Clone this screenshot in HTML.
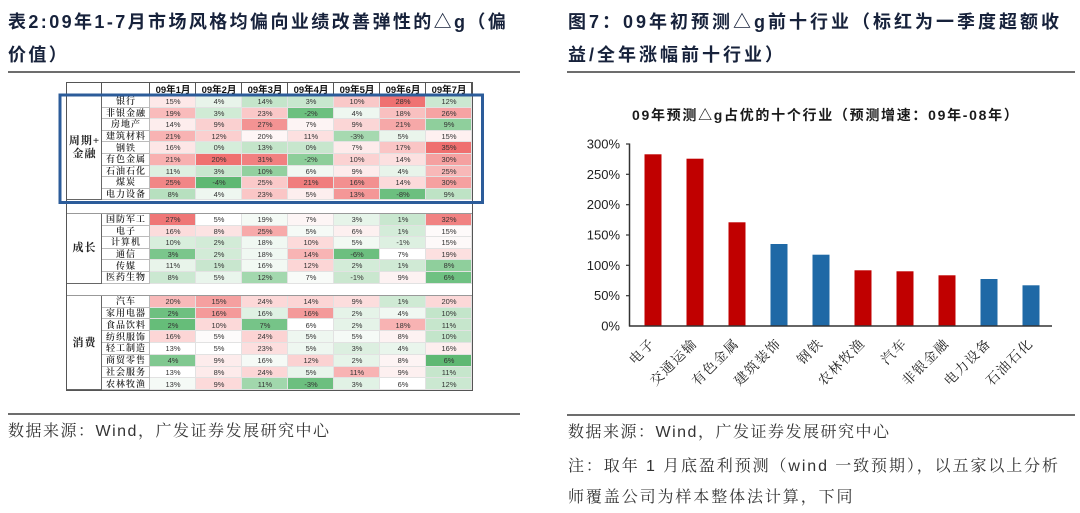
<!DOCTYPE html>
<html><head><meta charset="utf-8">
<style>
*{margin:0;padding:0;box-sizing:border-box}
body{width:1080px;height:513px;position:relative;overflow:hidden;background:#fff;font-family:"Liberation Sans","Noto Sans CJK SC",sans-serif}
.t{position:absolute;font-weight:bold;font-size:18px;line-height:33px;letter-spacing:2.4px;color:#17223b;white-space:nowrap}
.rule{position:absolute;height:2px;background:#6d6d6d}
.src{position:absolute;font-family:"Liberation Sans","Noto Serif CJK SC",serif;font-size:16px;letter-spacing:1.9px;color:#333;line-height:20px;white-space:nowrap}
.tb{position:absolute;left:66px;top:82px;border:1px solid #555;display:grid;grid-template-columns:35px 48px repeat(7,46px);grid-template-rows:13px repeat(9,11.6px) 13.6px repeat(6,11.6px) 12.4px repeat(8,11.8px);font-size:7.5px;color:#333;background:#fff}
.tb i{font-style:normal;display:flex;align-items:center;justify-content:center;box-shadow:inset -1px -1px 0 #e2e2e2;line-height:1}
.tb b{font-weight:600;font-family:"Liberation Serif","Noto Serif CJK SC",serif;font-size:9px;letter-spacing:1px;display:flex;align-items:center;justify-content:center;box-shadow:inset -1px -1px 0 #bbb;color:#222;line-height:1;white-space:nowrap;overflow:hidden}
.tb h6{font-weight:bold;font-size:9.5px;display:flex;align-items:flex-end;justify-content:center;box-shadow:inset -1px 0 0 #555;color:#111;line-height:11px;white-space:nowrap}
.tb u{text-decoration:none;grid-column:1;font-family:"Liberation Serif","Noto Serif CJK SC",serif;font-size:11px;font-weight:700;display:flex;align-items:center;justify-content:center;text-align:center;box-shadow:inset -1px -1px 0 #666;color:#222;line-height:13px;letter-spacing:1px;white-space:nowrap}
.tb s{text-decoration:none;grid-column:1/-1;box-shadow:inset 0 -1px 0 #999;background:#fff}
</style></head><body>

<div class="t" style="left:8px;top:6px">表2:09年1-7月市场风格均偏向业绩改善弹性的△g（偏<br>价值）</div>
<div class="rule" style="left:8px;top:71px;width:512px"></div>

<div class="t" style="left:568px;top:6px;letter-spacing:3px">图7：09年初预测△g前十行业（标红为一季度超额收<br>益/全年涨幅前十行业）</div>
<div class="rule" style="left:567px;top:71px;width:508px"></div>

<div class="tb">
<h6></h6><h6></h6><h6>09年1月</h6><h6>09年2月</h6><h6>09年3月</h6><h6>09年4月</h6><h6>09年5月</h6><h6>09年6月</h6><h6>09年7月</h6>
<u style="grid-row:2/11">周期+<br>金融</u>
<b>银行</b><i style="background:#FDE8E8">15%</i><i style="background:#E8F4EA">4%</i><i style="background:#C4E5CA">14%</i><i style="background:#C8E7CE">3%</i><i style="background:#F9C8C8">10%</i><i style="background:#EF7272">28%</i><i style="background:#CBE8D1">12%</i>
<b>非银金融</b><i style="background:#F9BBBB">19%</i><i style="background:#D0EBD5">3%</i><i style="background:#FAC8C8">23%</i><i style="background:#6CC07F">-2%</i><i style="background:#EEF7F0">4%</i><i style="background:#F9C0C0">18%</i><i style="background:#F6A3A3">26%</i>
<b>房地产</b><i style="background:#FDEDED">14%</i><i style="background:#FAD0D0">9%</i><i style="background:#F39393">27%</i><i style="background:#FDF4F4">7%</i><i style="background:#FBD6D6">9%</i><i style="background:#F6A8A8">21%</i><i style="background:#8FCF9C">9%</i>
<b>建筑材料</b><i style="background:#F8B3B3">21%</i><i style="background:#FBCFCF">12%</i><i style="background:#FEF6F6">20%</i><i style="background:#FCE0E0">11%</i><i style="background:#A6D9B0">-3%</i><i style="background:#EAF5EC">5%</i><i style="background:#FEF0F0">15%</i>
<b>钢铁</b><i style="background:#FDE6E6">16%</i><i style="background:#D5EDDA">0%</i><i style="background:#C4E5CA">13%</i><i style="background:#C7E6CD">0%</i><i style="background:#FDEBEB">7%</i><i style="background:#FAC5C5">17%</i><i style="background:#EF6F6F">35%</i>
<b>有色金属</b><i style="background:#F8B0B0">21%</i><i style="background:#F07070">20%</i><i style="background:#F18080">31%</i><i style="background:#8DCE9A">-2%</i><i style="background:#FBD2D2">10%</i><i style="background:#FCE0E0">14%</i><i style="background:#F5A0A0">30%</i>
<b>石油石化</b><i style="background:#DDF0E1">11%</i><i style="background:#C9E7CF">3%</i><i style="background:#92D09F">10%</i><i style="background:#F1F8F2">6%</i><i style="background:#FDECEC">9%</i><i style="background:#E8F4EA">4%</i><i style="background:#F8B8B8">25%</i>
<b>煤炭</b><i style="background:#F18686">25%</i><i style="background:#5FB873">-4%</i><i style="background:#FAC9C9">25%</i><i style="background:#F07D7D">21%</i><i style="background:#F39090">16%</i><i style="background:#FCDADA">14%</i><i style="background:#F6A0A0">30%</i>
<b>电力设备</b><i style="background:#B7E0BF">8%</i><i style="background:#EEF7F0">4%</i><i style="background:#FAC6C6">23%</i><i style="background:#FDEEEE">5%</i><i style="background:#F49797">13%</i><i style="background:#6CBF7F">-8%</i><i style="background:#BEE3C5">9%</i>
<s></s>
<u style="grid-row:12/18">成长</u>
<b>国防军工</b><i style="background:#EF7676">27%</i><i style="background:#FFFFFF">5%</i><i style="background:#F4FAF5">19%</i><i style="background:#FDF5F5">7%</i><i style="background:#E6F4E9">3%</i><i style="background:#C9E7CF">1%</i><i style="background:#F18282">32%</i>
<b>电子</b><i style="background:#FCDCDC">16%</i><i style="background:#FCE3E3">8%</i><i style="background:#F7AAAA">25%</i><i style="background:#F5FAF6">5%</i><i style="background:#FDF0F0">6%</i><i style="background:#D4ECD9">1%</i><i style="background:#FEFAFA">15%</i>
<b>计算机</b><i style="background:#D8EEDC">10%</i><i style="background:#D2EBD7">2%</i><i style="background:#F0F8F2">18%</i><i style="background:#FCDADA">10%</i><i style="background:#F2F9F3">5%</i><i style="background:#DDF0E1">-1%</i><i style="background:#FDF9F9">15%</i>
<b>通信</b><i style="background:#7BC68C">3%</i><i style="background:#D2EBD7">2%</i><i style="background:#F0F8F2">18%</i><i style="background:#F8B4B4">14%</i><i style="background:#6CBF7F">-6%</i><i style="background:#FFFFFF">7%</i><i style="background:#FCE0E0">19%</i>
<b>传媒</b><i style="background:#E8F4EA">11%</i><i style="background:#C8E6CE">1%</i><i style="background:#F2F9F3">16%</i><i style="background:#FCD6D6">12%</i><i style="background:#D3ECD8">2%</i><i style="background:#D0EAD5">1%</i><i style="background:#8FCF9C">8%</i>
<b>医药生物</b><i style="background:#CBE8D1">8%</i><i style="background:#E9F5EC">5%</i><i style="background:#A3D8AE">12%</i><i style="background:#F8FBF8">7%</i><i style="background:#CAE7CF">-1%</i><i style="background:#FDF2F2">9%</i><i style="background:#6FC182">6%</i>
<s></s>
<u style="grid-row:19/27">消费</u>
<b>汽车</b><i style="background:#F8B9B9">20%</i><i style="background:#F5A0A0">15%</i><i style="background:#FCD8D8">24%</i><i style="background:#FCD5D5">14%</i><i style="background:#FCDDDD">9%</i><i style="background:#CFEAD4">1%</i><i style="background:#FCD8D8">20%</i>
<b>家用电器</b><i style="background:#6EC080">2%</i><i style="background:#F49A9A">16%</i><i style="background:#DFF1E3">16%</i><i style="background:#F49A9A">16%</i><i style="background:#E5F3E8">2%</i><i style="background:#F0F8F2">4%</i><i style="background:#C3E5CA">10%</i>
<b>食品饮料</b><i style="background:#66BD79">2%</i><i style="background:#FCD9D9">10%</i><i style="background:#76C488">7%</i><i style="background:#FFFFFF">6%</i><i style="background:#E5F3E8">2%</i><i style="background:#F8B3B3">18%</i><i style="background:#C6E6CC">11%</i>
<b>纺织服饰</b><i style="background:#FCD6D6">16%</i><i style="background:#FDFBFB">5%</i><i style="background:#FCD3D3">24%</i><i style="background:#EEF7F0">5%</i><i style="background:#F5FAF6">5%</i><i style="background:#FDF2F2">8%</i><i style="background:#C3E5CA">10%</i>
<b>轻工制造</b><i style="background:#FFFFFF">13%</i><i style="background:#FFFFFF">5%</i><i style="background:#FCDEDE">23%</i><i style="background:#EEF7F0">5%</i><i style="background:#DCEFE0">3%</i><i style="background:#E9F5EC">4%</i><i style="background:#FDEEEE">16%</i>
<b>商贸零售</b><i style="background:#80C890">4%</i><i style="background:#FDECEC">9%</i><i style="background:#F5FAF6">16%</i><i style="background:#FBD2D2">12%</i><i style="background:#E6F4E9">2%</i><i style="background:#FDF4F4">8%</i><i style="background:#5FB873">6%</i>
<b>社会服务</b><i style="background:#FFFFFF">13%</i><i style="background:#FDEBEB">8%</i><i style="background:#FCD6D6">24%</i><i style="background:#E9F5EC">5%</i><i style="background:#F8B3B3">11%</i><i style="background:#FDF0F0">9%</i><i style="background:#C6E6CC">11%</i>
<b>农林牧渔</b><i style="background:#F5FAF6">13%</i><i style="background:#FCDADA">9%</i><i style="background:#A1D7AC">11%</i><i style="background:#6CBF7F">-3%</i><i style="background:#E1F2E5">3%</i><i style="background:#FFFFFF">6%</i><i style="background:#CBE8D1">12%</i>
</div>

<svg style="position:absolute;left:0;top:0" width="1080" height="513" viewBox="0 0 1080 513">
<rect x="60" y="95" width="422.5" height="107.5" fill="none" stroke="#2C5C9A" stroke-width="3"/>

<text x="632" y="120" font-family="Liberation Sans, Noto Sans CJK SC, sans-serif" font-size="14" font-weight="bold" letter-spacing="1.7" fill="#1a1a1a">09年预测△g占优的十个行业（预测增速：09年-08年）</text>

<g font-family="Liberation Sans, sans-serif" font-size="13" fill="#222" text-anchor="end">
<text x="620" y="148.5">300%</text>
<text x="620" y="178.8">250%</text>
<text x="620" y="209.2">200%</text>
<text x="620" y="239.5">150%</text>
<text x="620" y="269.8">100%</text>
<text x="620" y="300.2">50%</text>
<text x="620" y="330.5">0%</text>
</g>
<g stroke="#333" stroke-width="1.2">
<line x1="626" y1="144" x2="630" y2="144"/>
<line x1="626" y1="174.3" x2="630" y2="174.3"/>
<line x1="626" y1="204.7" x2="630" y2="204.7"/>
<line x1="626" y1="235" x2="630" y2="235"/>
<line x1="626" y1="265.3" x2="630" y2="265.3"/>
<line x1="626" y1="295.7" x2="630" y2="295.7"/>
</g>
<line x1="629.5" y1="143.5" x2="629.5" y2="326.5" stroke="#333" stroke-width="1.5"/>

<g>
<rect x="644.5" y="154.3" width="17" height="171.7" fill="#C00000"/>
<rect x="686.5" y="158.7" width="17" height="167.3" fill="#C00000"/>
<rect x="728.5" y="222.3" width="17" height="103.7" fill="#C00000"/>
<rect x="770.5" y="244" width="17" height="82" fill="#1F69A6"/>
<rect x="812.5" y="254.7" width="17" height="71.3" fill="#1F69A6"/>
<rect x="854.5" y="270.3" width="17" height="55.7" fill="#C00000"/>
<rect x="896.5" y="271.3" width="17" height="54.7" fill="#C00000"/>
<rect x="938.5" y="275.3" width="17" height="50.7" fill="#C00000"/>
<rect x="980.5" y="279" width="17" height="47" fill="#1F69A6"/>
<rect x="1022.5" y="285.3" width="17" height="40.7" fill="#1F69A6"/>
</g>
<line x1="629" y1="326" x2="1052" y2="326" stroke="#333" stroke-width="1.5"/>

<g font-family="Liberation Serif, Noto Serif CJK SC, serif" font-size="13.5" letter-spacing="1.5" fill="#222" text-anchor="end">
<text x="656" y="344" transform="rotate(-45 656 344)">电子</text>
<text x="698" y="344" transform="rotate(-45 698 344)">交通运输</text>
<text x="740" y="344" transform="rotate(-45 740 344)">有色金属</text>
<text x="782" y="344" transform="rotate(-45 782 344)">建筑装饰</text>
<text x="824" y="344" transform="rotate(-45 824 344)">钢铁</text>
<text x="866" y="344" transform="rotate(-45 866 344)">农林牧渔</text>
<text x="908" y="344" transform="rotate(-45 908 344)">汽车</text>
<text x="950" y="344" transform="rotate(-45 950 344)">非银金融</text>
<text x="992" y="344" transform="rotate(-45 992 344)">电力设备</text>
<text x="1034" y="344" transform="rotate(-45 1034 344)">石油石化</text>
</g>
</svg>

<div class="rule" style="left:8px;top:413px;width:512px"></div>
<div class="src" style="left:8px;top:422px;letter-spacing:1.5px">数据来源：Wind，广发证券发展研究中心</div>

<div class="rule" style="left:567px;top:414px;width:508px"></div>
<div class="src" style="left:568px;top:423px;letter-spacing:1.5px">数据来源：Wind，广发证券发展研究中心</div>
<div class="src" style="left:568px;top:457px">注：取年 1 月底盈利预测（wind 一致预期），以五家以上分析</div>
<div class="src" style="left:568px;top:488px">师覆盖公司为样本整体法计算，下同</div>

</body></html>
